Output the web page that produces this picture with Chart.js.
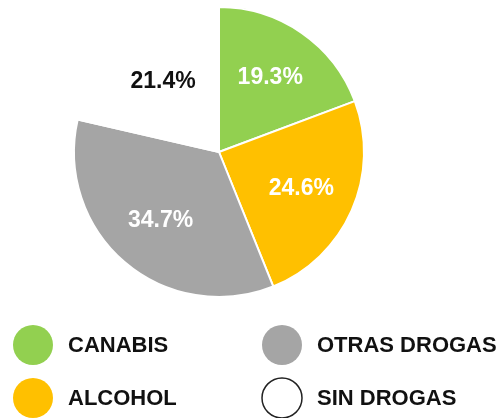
<!DOCTYPE html>
<html><head><meta charset="utf-8">
<script src="https://cdn.jsdelivr.net/npm/chart.js@4"></script>
<style>html,body{margin:0;padding:0;background:#fff}#wrap{width:496px;height:418px;position:relative}</style>
</head><body><div id="wrap"><canvas id="c" width="496" height="418"></canvas></div>
<script>
const categories = ["CANABIS", "ALCOHOL", "OTRAS DROGAS", "SIN DROGAS"];
const values = [19.3, 24.6, 34.7, 21.4];
const colors = ["#92D050", "#FFC000", "#A5A5A5", "#FFFFFF"];
const labelColors = ["#FFFFFF", "#FFFFFF", "#FFFFFF", "#111111"];
const legendOrder = [0, 1, 2, 3];

const FONT = "'Liberation Sans', Arial, sans-serif";

const labelPlugin = {
  id: 'sliceLabels',
  afterDatasetsDraw(chart) {
    const ctx = chart.ctx;
    const meta = chart.getDatasetMeta(0);
    ctx.save();
    ctx.font = "bold 23px " + FONT;
    ctx.textAlign = 'center';
    ctx.textBaseline = 'middle';
    meta.data.forEach((arc, i) => {
      const p = arc.getProps(['x','y','startAngle','endAngle','outerRadius'], true);
      const mid = (p.startAngle + p.endAngle) / 2;
      const r = p.outerRadius * 0.62;
      ctx.fillStyle = labelColors[i];
      ctx.fillText(values[i].toFixed(1) + '%', p.x + Math.cos(mid) * r, p.y + Math.sin(mid) * r);
    });
    ctx.restore();
  }
};

const legendPlugin = {
  id: 'gridLegend',
  afterDraw(chart) {
    const ctx = chart.ctx;
    const cols = [33, 282];
    const rows = [345, 398];
    ctx.save();
    ctx.font = "bold 22px " + FONT;
    ctx.textAlign = 'left';
    ctx.textBaseline = 'middle';
    legendOrder.forEach((idx, k) => {
      const cx = cols[Math.floor(k / 2)];
      const cy = rows[k % 2];
      ctx.beginPath();
      ctx.arc(cx, cy, 20, 0, Math.PI * 2);
      ctx.fillStyle = colors[idx];
      ctx.fill();
      if (colors[idx].toUpperCase() === '#FFFFFF') {
        ctx.lineWidth = 1.5;
        ctx.strokeStyle = '#222';
        ctx.stroke();
      }
      ctx.fillStyle = '#111';
      ctx.fillText(categories[idx], cx + 35, cy + 1);
    });
    ctx.restore();
  }
};

new Chart(document.getElementById('c'), {
  type: 'pie',
  data: {
    labels: categories,
    datasets: [{
      data: values,
      backgroundColor: colors,
      borderColor: '#FFFFFF',
      borderWidth: 2
    }]
  },
  options: {
    responsive: false,
    animation: false,
    radius: 145,
    layout: { padding: { left: 0, right: 58, top: 0, bottom: 114 } },
    plugins: { legend: { display: false }, tooltip: { enabled: false } }
  },
  plugins: [labelPlugin, legendPlugin]
});
</script></body></html>
